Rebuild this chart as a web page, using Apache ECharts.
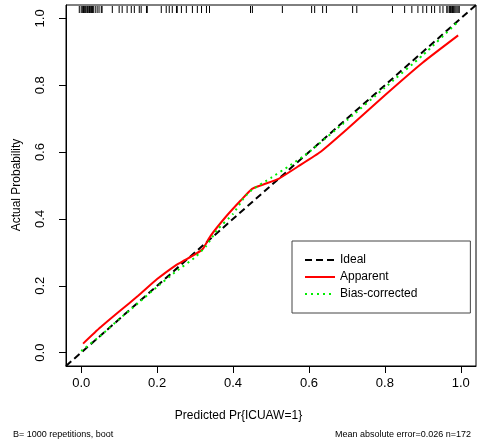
<!DOCTYPE html>
<html>
<head>
<meta charset="utf-8">
<script src="https://cdn.jsdelivr.net/npm/echarts@6/dist/echarts.min.js"></script>
<style>
html,body{margin:0;padding:0;background:#fff;}
#main{width:477px;height:448px;}
</style>
</head>
<body>
<div id="main"></div>
<script>
// tick labels of both axes
var tickValues = [0, 0.2, 0.4, 0.6, 0.8, 1.0];
// ideal line (abline 0/1, goes across whole plot)
var idealX = [-0.04, 1.04];
var idealY = [-0.04, 1.04];
// apparent calibration curve
var apparentX = [0.005, 0.05, 0.1, 0.15, 0.2, 0.25, 0.27, 0.3, 0.32, 0.34, 0.38, 0.42, 0.45, 0.48, 0.52, 0.57, 0.63, 0.7, 0.8, 0.9, 0.993];
var apparentY = [0.027, 0.075, 0.123, 0.17, 0.22, 0.262, 0.275, 0.294, 0.31, 0.348, 0.405, 0.455, 0.49, 0.503, 0.52, 0.556, 0.6, 0.668, 0.77, 0.868, 0.949];
// bias-corrected curve
var biasX = [0.0, 0.05, 0.1, 0.15, 0.2, 0.25, 0.3, 0.33, 0.36, 0.4, 0.43, 0.45, 0.5, 0.55, 0.6, 0.7, 0.8, 0.9, 0.99];
var biasY = [0.005, 0.05, 0.1, 0.148, 0.197, 0.243, 0.285, 0.32, 0.37, 0.415, 0.465, 0.487, 0.523, 0.56, 0.6, 0.695, 0.793, 0.89, 0.987];
// predicted values shown as rug at top
var rugX = [-0.005, 0, 0.003, 0.006, 0.008, 0.01, 0.012, 0.015, 0.017, 0.02, 0.022, 0.025, 0.027, 0.03,
	0.032, 0.037, 0.042, 0.047, 0.053, 0.055,
	0.082, 0.10, 0.108, 0.121, 0.132, 0.14, 0.153, 0.158, 0.172, 0.174,
	0.211, 0.224, 0.232, 0.24, 0.251, 0.253, 0.264, 0.277,
	0.293, 0.306, 0.317, 0.33, 0.338,
	0.446, 0.451, 0.53, 0.607, 0.615, 0.636, 0.646, 0.715, 0.726, 0.82,
	0.852, 0.871, 0.887, 0.9, 0.91, 0.923, 0.931, 0.945, 0.953, 0.963,
	0.966, 0.97, 0.973, 0.976, 0.978, 0.981, 0.984, 0.987, 0.99, 0.993, 0.996];

function pairs(xs, ys){
	var out = [];
	for (var i = 0; i < xs.length; i++) out.push([xs[i], ys[i]]);
	return out;
}

var font = 'Liberation Sans, Arial, sans-serif';
var myChart = echarts.init(document.getElementById('main'));

var option = {
	animation: false,
	backgroundColor: '#fff',
	textStyle: {fontFamily: font},
	grid: {left: 66, top: 5, right: 1, bottom: 82, show: true, borderColor: '#000', borderWidth: 1},
	xAxis: {										//X轴
		type: 'value', min: -0.04, max: 1.04,
		splitLine: {show: false},
		axisLine: {show: true, onZero: false, lineStyle: {color: '#000'}},
		axisTick: {show: true, length: 7, customValues: tickValues, lineStyle: {color: '#000'}},
		axisLabel: {customValues: tickValues, margin: 11, color: '#000', fontSize: 13, fontFamily: font,
			formatter: function(v){ return v.toFixed(1); }}
	},
	yAxis: {										//Y轴
		type: 'value', min: -0.04, max: 1.04,
		splitLine: {show: false},
		axisLine: {show: true, onZero: false, lineStyle: {color: '#000'}},
		axisTick: {show: true, length: 7, customValues: tickValues, lineStyle: {color: '#000'}},
		axisLabel: {customValues: tickValues, rotate: 90, margin: 19, color: '#000', fontSize: 13, fontFamily: font,
			formatter: function(v){ return v.toFixed(1); }}
	},
	legend: {
		data: ['Ideal', 'Apparent', 'Bias-corrected'],
		orient: 'vertical', left: 292, top: 241,
		padding: [13, 53, 13, 12],
		itemWidth: 30, itemHeight: 12, itemGap: 5,
		itemStyle: {opacity: 0},
		borderColor: '#444', borderWidth: 1, borderRadius: 0,
		textStyle: {color: '#000', fontSize: 12, fontFamily: font}
	},
	graphic: [
		{type: 'text', left: 'center', top: 410, style: {text: 'Predicted Pr{ICUAW=1}', font: '12px ' + font, fill: '#000'}},
		{type: 'text', x: 17, y: 185, rotation: Math.PI / 2, style: {text: 'Actual Probability', font: '12px ' + font, fill: '#000', align: 'center', verticalAlign: 'middle'}},
		{type: 'text', x: 13, y: 430, style: {text: 'B= 1000 repetitions, boot', font: '9px ' + font, fill: '#000'}},
		{type: 'text', x: 471, y: 430, style: {text: 'Mean absolute error=0.026 n=172', font: '9px ' + font, fill: '#000', align: 'right'}}
	],
	series: [
		{
			name: 'Ideal', type: 'line', symbol: 'none',
			data: pairs(idealX, idealY),
			lineStyle: {color: '#000', width: 2, type: [7, 4]},
			itemStyle: {color: '#000'}
		},
		{
			name: 'Apparent', type: 'line', symbol: 'none', smooth: 0.15,
			data: pairs(apparentX, apparentY),
			lineStyle: {color: '#ff0000', width: 2},
			itemStyle: {color: '#ff0000'}
		},
		{
			name: 'Bias-corrected', type: 'line', symbol: 'none', smooth: 0.15,
			data: pairs(biasX, biasY),
			lineStyle: {color: '#00ee00', width: 2, type: [2, 4]},
			itemStyle: {color: '#00ee00'}
		},
		{
			name: 'rug', type: 'custom',
			data: rugX.map(function(v){ return [v]; }),
			renderItem: function(params, api){
				var p = api.coord([api.value(0), 1.04]);
				return {type: 'line', shape: {x1: p[0], y1: p[1] + 1, x2: p[0], y2: p[1] + 8},
					style: {stroke: '#000', lineWidth: 1}};
			}
		}
	]
};

myChart.setOption(option);
</script>
</body>
</html>
